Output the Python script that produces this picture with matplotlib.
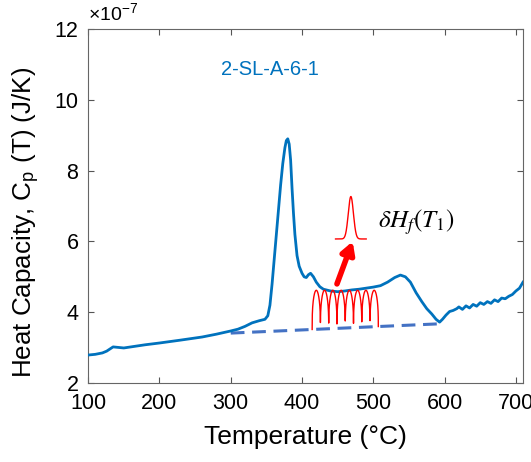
import matplotlib.pyplot as plt
import numpy as np

plt.rcParams['font.family'] = ['Liberation Sans', 'DejaVu Sans']
plt.rcParams['mathtext.fontset'] = 'stix'

# measured heat capacity (x1e-7 J/K)
temp = [100, 110, 120, 126, 135, 140, 150, 160, 180, 200, 229, 260, 280, 300,
        310, 320, 330, 340, 348, 352, 355, 358, 361, 364, 367, 370, 373, 376,
        378, 380, 382, 384, 386, 388, 390, 393, 396, 400, 403, 406, 409, 412,
        416, 420, 425, 430, 440, 450, 460, 470, 480, 490, 500, 510, 520, 530,
        538, 545, 552, 560, 568, 575, 582, 588, 593, 597, 602, 607, 612, 617,
        620, 625, 630, 635, 640, 645, 650, 655, 660, 665, 670, 675, 680, 685,
        690, 695, 700, 705, 710]
cp = [2.79, 2.81, 2.85, 2.90, 3.02, 3.01, 2.99, 3.02, 3.08, 3.13, 3.21, 3.30, 3.38, 3.47,
      3.52, 3.60, 3.70, 3.76, 3.80, 3.90, 4.20, 4.80, 5.50, 6.20, 6.90, 7.60, 8.20, 8.65,
      8.85, 8.90, 8.75, 8.30, 7.50, 6.80, 6.20, 5.60, 5.30, 5.10, 5.00, 4.98, 5.06, 5.10,
      5.00, 4.85, 4.72, 4.65, 4.60, 4.58, 4.60, 4.63, 4.65, 4.68, 4.71, 4.75, 4.85, 4.98,
      5.05, 5.00, 4.85, 4.55, 4.30, 4.10, 3.95, 3.80, 3.72, 3.80, 3.92, 4.02, 4.05, 4.10,
      4.15, 4.08, 4.18, 4.12, 4.22, 4.17, 4.27, 4.22, 4.30, 4.25, 4.35, 4.30, 4.40, 4.38,
      4.45, 4.50, 4.60, 4.68, 4.85]

# baseline (dashed)
base_t = [300, 590]
base_cp = [3.41, 3.67]

# modulation pulses
pulse_centers = [420, 431.6, 443.2, 454.8, 466.4, 478, 489.6, 501.2]
pulse_top = 4.62

fig = plt.figure(figsize=(5.31, 4.62), dpi=100)
ax = fig.add_axes([0.166, 0.171, 0.819, 0.766])

ax.plot(temp, cp, color='#0072BD', lw=2.0, zorder=3)
ax.plot(base_t, base_cp, color='#4472C4', lw=2.2, ls=(0, (4.5, 2.5)), zorder=2)

# pulse train over baseline
period = pulse_centers[1] - pulse_centers[0]
tt = np.linspace(pulse_centers[0] - period / 2, pulse_centers[-1] + period / 2, 1500)
bl = np.interp(tt, base_t, base_cp)
ph = (tt - pulse_centers[0] + period / 2) / period
shape = np.abs(np.sin(np.pi * ph)) ** 0.35
ax.plot(tt, bl + (pulse_top - bl) * shape, color='red', lw=1.0, zorder=4)

# single pulse
g_t = np.linspace(447, 490, 300)
g_c = 468.5
ax.plot(g_t, 6.07 + 1.2 * np.exp(-0.5 * ((g_t - g_c) / 3.6) ** 2), color='red', lw=1.0)

ax.annotate('', xy=(471, 6.0), xytext=(449, 4.8),
            arrowprops=dict(arrowstyle='-|>,head_width=0.4,head_length=0.7',
                            color='red', lw=4, shrinkA=0, shrinkB=0))

ax.text(506, 6.55, r'$\delta H_f(T_1)$', fontsize=18, ha='left', va='center')
ax.text(355, 10.85, '2-SL-A-6-1', color='#0072BD', fontsize=14.5, ha='center', va='center')

ax.set_xlim(100, 710)
ax.set_ylim(2, 12)
ax.set_xticks([100, 200, 300, 400, 500, 600, 700])
ax.set_yticks([2, 4, 6, 8, 10, 12])
ax.tick_params(direction='in', top=True, right=True, labelsize=15.5, length=4,
               color='#555555', pad=7)
for s in ax.spines.values():
    s.set_color('#666666')
ax.set_xlabel('Temperature (°C)', fontsize=19, labelpad=8)
ax.set_ylabel(r'Heat Capacity, C$_\mathregular{p}$ (T) (J/K)', fontsize=18.7)
ax.yaxis.set_label_coords(-0.105, 0.455)
ax.text(0.0, 1.01, r'×10$^{\mathregular{-7}}$', transform=ax.transAxes, fontsize=14,
        ha='left', va='bottom')

fig.savefig('out.png', dpi=100)
